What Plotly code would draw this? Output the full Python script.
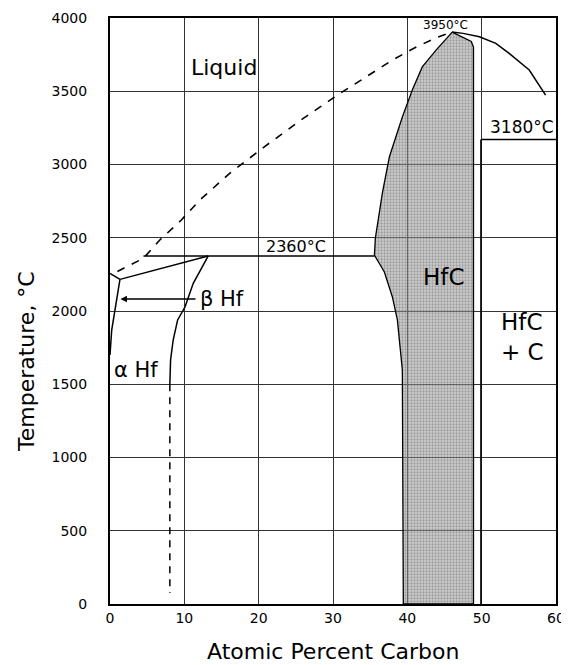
import plotly.graph_objects as go

# ---- data (atomic % C, temperature °C) ----
liquidus_x = [1.0, 4.5, 6.7, 9.6, 12.1, 16.1, 20.8, 25.7, 30.6, 35.3, 38.0, 41.2, 43.8, 46.0]
liquidus_t = [2270, 2360, 2485, 2621, 2758, 2940, 3122, 3304, 3474, 3622, 3713, 3802, 3863, 3904]

c_liquidus_x = [46.0, 47.5, 49.7, 51.9, 53.7, 56.4, 58.6]
c_liquidus_t = [3904, 3895, 3872, 3827, 3759, 3645, 3474]

hfc_left_x = [46.04, 43.89, 42.01, 40.67, 39.33, 37.58, 36.64, 36.11, 35.70, 35.57, 36.91, 37.99, 38.66, 39.33, 39.46]
hfc_left_t = [3904, 3782, 3666, 3509, 3324, 3051, 2805, 2621, 2498, 2382, 2266, 2096, 1939, 1597, 0]

hfc_right_x = [48.9, 48.9, 48.6, 47.65, 46.98, 46.04]
hfc_right_t = [0, 3802, 3840, 3863, 3884, 3904]

hf_melt_x = [0.0, 1.34]
hf_melt_t = [2257, 2216]

beta_solidus_x = [1.34, 13.2]
beta_solidus_t = [2216, 2375]

peritectic_x = [4.5, 35.6]
peritectic_t = [2375, 2375]

beta_solvus_x = [13.2, 11.2, 10.1, 9.1, 8.5, 8.15, 8.05]
beta_solvus_t = [2375, 2189, 2029, 1939, 1802, 1666, 1500]

beta_solvus_low_x = [8.05, 8.05]
beta_solvus_low_t = [1500, 75]

alpha_beta_x = [1.34, 0.23, 0.0]
alpha_beta_t = [2216, 1870, 1700]

eutectic_x = [49.9, 60.0]
eutectic_t = [3170, 3170]

c_solvus_x = [49.9, 49.9]
c_solvus_t = [0, 3170]

x_ticks = [0, 10, 20, 30, 40, 50, 60]
y_ticks = [0, 500, 1000, 1500, 2000, 2500, 3000, 3500, 4000]

FONT = "DejaVu Sans"

fig = go.Figure()

# shaded HfC single-phase field
fig.add_trace(go.Scatter(
    x=hfc_left_x + hfc_right_x, y=hfc_left_t + hfc_right_t,
    mode="lines", fill="toself",
    fillcolor="rgba(140,140,140,0.5)",
    fillpattern=dict(shape=".", bgcolor="rgba(160,160,160,0.5)",
                     fgcolor="rgba(60,60,60,0.7)", size=3, solidity=0.45),
    line=dict(color="black", width=1.3), hoverinfo="skip", showlegend=False))

def add_line(xs, ts, dash=None, width=1.5):
    fig.add_trace(go.Scatter(x=xs, y=ts, mode="lines",
                             line=dict(color="black", width=width, dash=dash),
                             hoverinfo="skip", showlegend=False))

add_line(liquidus_x, liquidus_t, dash="8px,8px", width=1.6)
add_line(c_liquidus_x, c_liquidus_t, width=1.5)
add_line(hf_melt_x, hf_melt_t)
add_line(beta_solidus_x, beta_solidus_t)
add_line(peritectic_x, peritectic_t, width=1.6)
add_line(beta_solvus_x, beta_solvus_t)
add_line(beta_solvus_low_x, beta_solvus_low_t, dash="7px,6px")
add_line(alpha_beta_x, alpha_beta_t)
add_line(eutectic_x, eutectic_t)
add_line(c_solvus_x, c_solvus_t)

labels = [
    ("Liquid", 15.3, 3660, 22),
    ("2360°C", 25.0, 2437, 16),
    ("3950°C", 45.2, 3950, 12),
    ("3180°C", 55.4, 3258, 17),
    ("HfC", 44.8, 2235, 23),
    ("HfC", 55.3, 1925, 23),
    ("+ C", 55.5, 1720, 23),
    ("α Hf", 3.5, 1597, 21),
]
for txt, lx, ly, sz in labels:
    fig.add_annotation(x=lx, y=ly, text=txt, showarrow=False,
                       font=dict(family=FONT, size=sz, color="black"),
                       xanchor="center", yanchor="middle")

fig.add_annotation(x=11.8, y=2082, text="β Hf", showarrow=False, xanchor="left",
                   yanchor="middle", font=dict(family=FONT, size=21, color="black"))
fig.add_annotation(x=1.4, y=2082, ax=11.7, ay=2082, axref="x", ayref="y",
                   text="", showarrow=True, arrowhead=2, arrowsize=1,
                   arrowwidth=1.3, arrowcolor="black")

# axis titles
fig.add_annotation(x=0, y=0.413, xref="paper", yref="paper", xshift=-83,
                   xanchor="center", yanchor="middle",
                   text="Temperature, °C", textangle=-90, showarrow=False,
                   font=dict(family=FONT, size=22, color="black"))
fig.add_annotation(x=0.5, y=0, xref="paper", yref="paper", yshift=-47,
                   xanchor="center", yanchor="middle",
                   text="Atomic Percent Carbon", showarrow=False,
                   font=dict(family=FONT, size=22, color="black"))

axis_common = dict(showgrid=True, gridcolor="#333333", gridwidth=1.2,
                   showline=True, linecolor="black", linewidth=2, mirror=True,
                   zeroline=False, ticks="", automargin=False,
                   tickfont=dict(family=FONT, size=14, color="black"))

fig.update_xaxes(range=[0, 60], tickvals=x_ticks, ticklabelstandoff=0, **axis_common)
fig.update_yaxes(range=[0, 4000], tickvals=y_ticks, ticklabelstandoff=18, **axis_common)

# the page body adds an 8px margin, so the figure is sized to fit inside it
fig.update_layout(width=561, height=657,
                  margin=dict(l=102, r=13, t=10, b=61, autoexpand=False),
                  paper_bgcolor="white", plot_bgcolor="white",
                  showlegend=False)

fig.write_html("out.html")
